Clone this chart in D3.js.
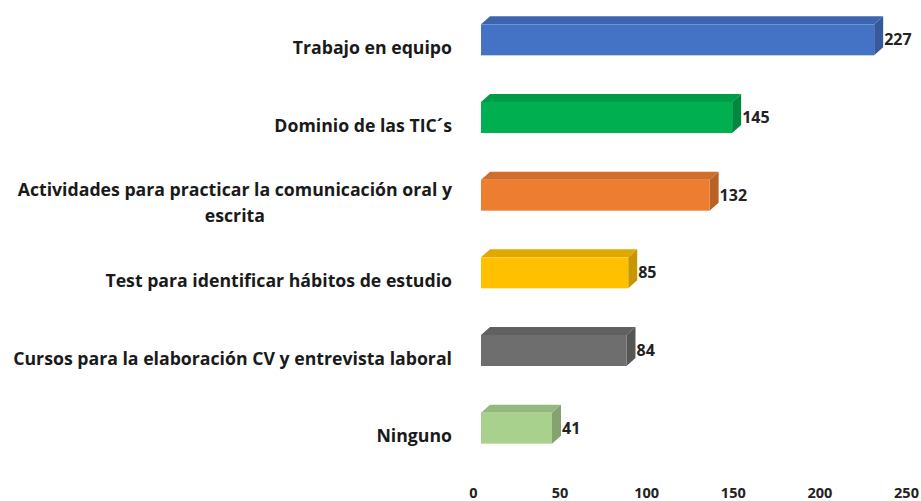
<!DOCTYPE html>
<html><head><meta charset="utf-8">
<script src="https://cdn.jsdelivr.net/npm/d3@7"></script>
<style>body{margin:0;background:#fff;} svg{display:block;}</style>
</head><body>
<svg id="chart" width="921" height="501"></svg>
<script>
const categories = [
  "Trabajo en equipo",
  "Dominio de las TIC´s",
  "Actividades para practicar la comunicación oral y|escrita",
  "Test para identificar hábitos de estudio",
  "Cursos para la elaboración CV y entrevista laboral",
  "Ninguno"
];
const values = [227, 145, 132, 85, 84, 41];
const colors = ["#4472C4", "#00B050", "#ED7D31", "#FFC000", "#6E6E6E", "#A9D18E"];
const tickValues = [0, 50, 100, 150, 200, 250];

const svg = d3.select("#chart");
const x = d3.scaleLinear().domain([0, 250]).range([473, 906]);
const y = d3.scalePoint().domain(categories).range([1, 467]).padding(0.5);
const off = 8, dx = 9, dy = 8, bh = 31;
const font = "'Open Sans', sans-serif";
const labelSize = 17.7;

const g = svg.append("g");
categories.forEach((c, i) => {
  const v = values[i], col = d3.color(colors[i]);
  const x0 = x(0) + off, x1 = x(v) + off;
  const yt = y(c) - bh / 2, yb = y(c) + bh / 2;
  g.append("polygon")
    .attr("points", [[x0, yt], [x0 + dx, yt - dy], [x1 + dx, yt - dy], [x1, yt]].join(" "))
    .attr("fill", col.darker(0.35));
  g.append("polygon")
    .attr("points", [[x1, yt], [x1 + dx, yt - dy], [x1 + dx, yb - dy], [x1, yb]].join(" "))
    .attr("fill", col.darker(0.7));
  g.append("rect").attr("x", x0).attr("y", yt).attr("width", x1 - x0).attr("height", bh)
    .attr("fill", col);
  g.append("text").attr("x", x1 + dx + 1).attr("y", y(c)).attr("dy", "0.35em")
    .attr("font-family", font).attr("font-weight", "bold").attr("font-size", 16)
    .attr("fill", "#222").text(v);
});

// category labels
categories.forEach((c, i) => {
  const lines = c.split("|");
  const cy = y(c) + 8;
  if (lines.length === 1) {
    g.append("text").attr("x", 452).attr("y", cy).attr("dy", "0.35em")
      .attr("text-anchor", "end").attr("font-family", font).attr("font-weight", "bold")
      .attr("font-size", labelSize).attr("fill", "#1a1a1a").text(c);
  } else {
    const t = g.append("text").attr("font-family", font).attr("font-weight", "bold")
      .attr("font-size", labelSize).attr("fill", "#1a1a1a").attr("text-anchor", "middle");
    const tmp = g.append("text").attr("font-family", font).attr("font-weight", "bold")
      .attr("font-size", labelSize).text(lines[0]);
    const w = tmp.node().getComputedTextLength();
    tmp.remove();
    const cx = 452 - w / 2;
    lines.forEach((l, j) => {
      t.append("tspan").attr("x", cx).attr("y", cy - 13 + j * 26).attr("dy", "0.35em").text(l);
    });
  }
});

// x axis
const axis = d3.axisBottom(x).tickValues(tickValues).tickSize(0).tickPadding(0);
const ax = svg.append("g").attr("transform", "translate(0,488)").call(axis);
ax.select(".domain").remove();
ax.selectAll("text").attr("font-family", font).attr("font-weight", "bold")
  .attr("font-size", 14.5).attr("fill", "#222");
</script>
</body></html>
